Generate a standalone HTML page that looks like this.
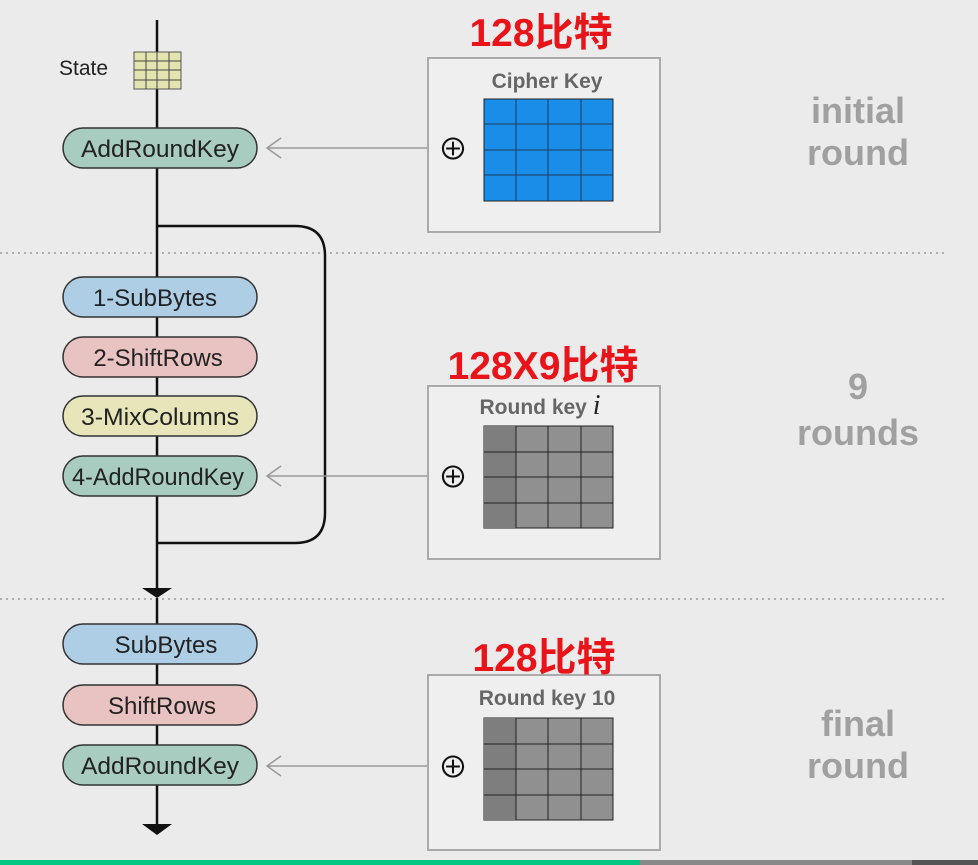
<!DOCTYPE html>
<html><head><meta charset="utf-8"><style>
html,body{margin:0;padding:0;background:#ebebeb;}
svg{display:block;font-family:"Liberation Sans","Noto Sans CJK SC",sans-serif;}
</style></head><body>
<svg width="978" height="865" viewBox="0 0 978 865">
<rect width="978" height="865" fill="#ebebeb"/>
<line x1="0" y1="253" x2="945" y2="253" stroke="#999" stroke-width="1.5" stroke-dasharray="2,4"/>
<line x1="0" y1="599" x2="945" y2="599" stroke="#999" stroke-width="1.5" stroke-dasharray="2,4"/>
<line x1="157" y1="20" x2="157" y2="590" stroke="#111" stroke-width="2.5"/>
<polygon points="142,588 172,588 157,598" fill="#111"/>
<line x1="157" y1="598" x2="157" y2="826" stroke="#111" stroke-width="2.5"/>
<polygon points="142,824 172,824 157,835" fill="#111"/>
<path d="M157,226 H295 Q325,226 325,256 V513 Q325,543 295,543 H157" fill="none" stroke="#111" stroke-width="2.5"/>
<text x="59" y="75" font-size="21" fill="#222">State</text>
<g>
<rect x="134" y="52" width="47" height="37" fill="#e4e4b0" stroke="#555" stroke-width="1"/>
<path d="M146,52V89M157,52V89M169,52V89M134,61H181M134,70H181M134,80H181" stroke="#444" stroke-width="1"/>
</g>
<g font-size="24" fill="#222" text-anchor="middle">
<g><rect x="63" y="128" width="194" height="40" rx="20" fill="#a8ccbf" stroke="#333" stroke-width="1.5"/><text x="160" y="157" textLength="158" lengthAdjust="spacingAndGlyphs">AddRoundKey</text></g>
<g><rect x="63" y="277" width="194" height="40" rx="20" fill="#aecee6" stroke="#333" stroke-width="1.5"/><text x="155" y="306">1-SubBytes</text></g>
<g><rect x="63" y="337" width="194" height="40" rx="20" fill="#e8c3c1" stroke="#333" stroke-width="1.5"/><text x="158" y="366">2-ShiftRows</text></g>
<g><rect x="63" y="396" width="194" height="40" rx="20" fill="#e6e6ba" stroke="#333" stroke-width="1.5"/><text x="160" y="425" textLength="158" lengthAdjust="spacingAndGlyphs">3-MixColumns</text></g>
<g><rect x="63" y="456" width="194" height="40" rx="20" fill="#a8ccbf" stroke="#333" stroke-width="1.5"/><text x="158" y="485" textLength="172" lengthAdjust="spacingAndGlyphs">4-AddRoundKey</text></g>
<g><rect x="63" y="624" width="194" height="40" rx="20" fill="#aecee6" stroke="#333" stroke-width="1.5"/><text x="166" y="653">SubBytes</text></g>
<g><rect x="63" y="685" width="194" height="40" rx="20" fill="#e8c3c1" stroke="#333" stroke-width="1.5"/><text x="162" y="714">ShiftRows</text></g>
<g><rect x="63" y="745" width="194" height="40" rx="20" fill="#a8ccbf" stroke="#333" stroke-width="1.5"/><text x="160" y="774" textLength="158" lengthAdjust="spacingAndGlyphs">AddRoundKey</text></g>
</g>
<g stroke="#999" stroke-width="1.5" fill="none">
<path d="M428,148H267M281,138L267,148L281,158"/>
<path d="M428,476H267M281,466L267,476L281,486"/>
<path d="M428,766H267M281,756L267,766L281,776"/>
</g>
<g>
<rect x="428" y="58" width="232" height="174" fill="#efefef" stroke="#aaa" stroke-width="2"/>
<text x="547" y="88" font-size="21" font-weight="bold" fill="#666" text-anchor="middle">Cipher Key</text>
<text x="453" y="160" font-size="30" fill="#111" text-anchor="middle">⊕</text>
<rect x="484" y="99" width="129" height="102" fill="#1a8de8" stroke="#222"/>
<path d="M516,99V201M548,99V201M581,99V201M484,124H613M484,150H613M484,175H613" stroke="#1a3a5a" stroke-width="1"/>
</g>
<g>
<rect x="428" y="386" width="232" height="173" fill="#efefef" stroke="#aaa" stroke-width="2"/>
<text x="540" y="414" font-size="21" font-weight="bold" fill="#666" text-anchor="middle">Round key <tspan font-family="Liberation Serif,serif" font-style="italic" font-weight="normal" font-size="28" fill="#222">i</tspan></text>
<text x="453" y="488" font-size="30" fill="#111" text-anchor="middle">⊕</text>
<rect x="484" y="426" width="129" height="102" fill="#909090" stroke="#222"/>
<rect x="484" y="426" width="32" height="102" fill="#7e7e7e"/>
<path d="M516,426V528M548,426V528M581,426V528M484,452H613M484,477H613M484,503H613" stroke="#222" stroke-width="1"/>
</g>
<g>
<rect x="428" y="675" width="232" height="175" fill="#efefef" stroke="#aaa" stroke-width="2"/>
<text x="547" y="705" font-size="21" font-weight="bold" fill="#666" text-anchor="middle">Round key 10</text>
<text x="453" y="778" font-size="30" fill="#111" text-anchor="middle">⊕</text>
<rect x="484" y="718" width="129" height="102" fill="#909090" stroke="#222"/>
<rect x="484" y="718" width="32" height="102" fill="#7e7e7e"/>
<path d="M516,718V820M548,718V820M581,718V820M484,744H613M484,769H613M484,795H613" stroke="#222" stroke-width="1"/>
</g>
<g font-size="39" font-weight="bold" fill="#e8141a" text-anchor="middle">
<text x="541" y="46">128比特</text>
<text x="543" y="379">128X9比特</text>
<text x="544" y="671">128比特</text>
</g>
<g font-size="36" font-weight="bold" fill="#a0a0a0" text-anchor="middle">
<text x="858" y="123">initial</text>
<text x="858" y="165">round</text>
<text x="858" y="399">9</text>
<text x="858" y="445">rounds</text>
<text x="858" y="736">final</text>
<text x="858" y="778">round</text>
</g>
<rect x="0" y="860" width="640" height="5" fill="#00c882"/>
<rect x="640" y="860" width="272" height="5" fill="#888"/>
<rect x="912" y="860" width="66" height="5" fill="#555"/>
</svg>
</body></html>
